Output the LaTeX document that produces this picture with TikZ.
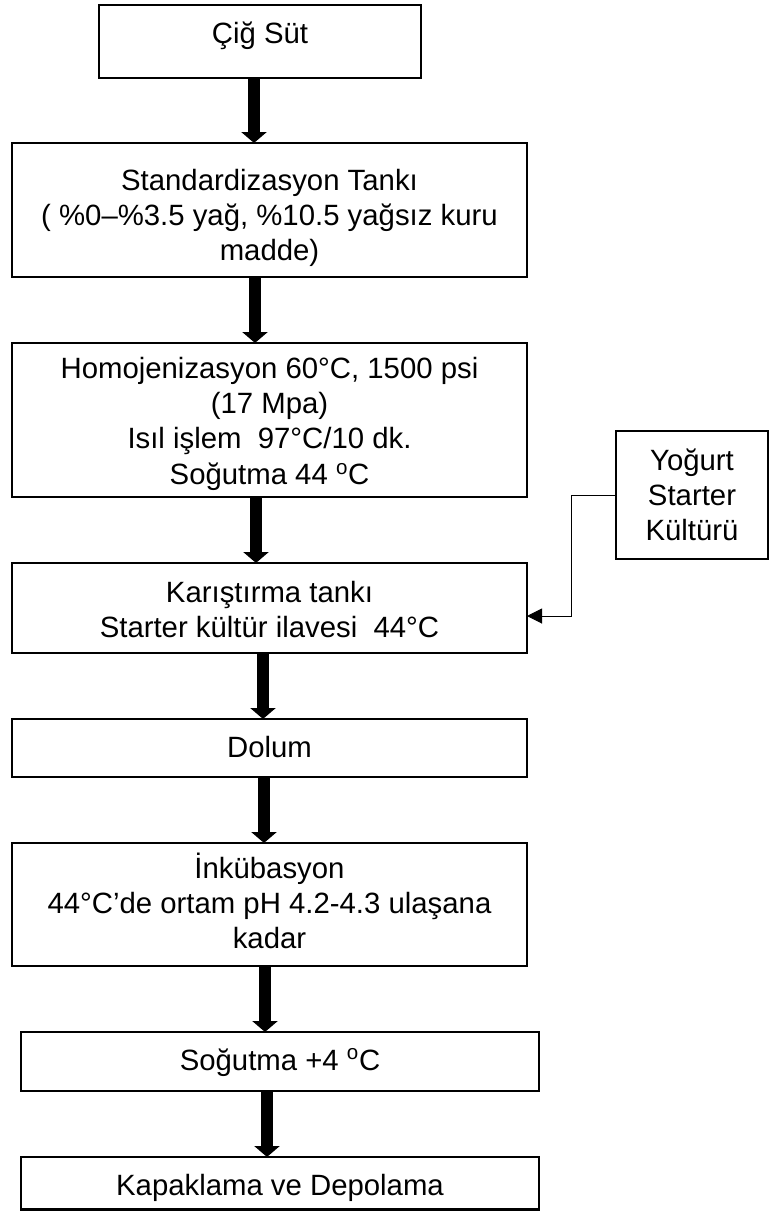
\documentclass[tikz,border=0pt]{standalone}
\usepackage{fontspec}
\setmainfont{Liberation Sans}
\usetikzlibrary{arrows.meta}
\newcommand\tp{\rule{0pt}{22pt}}
\begin{document}
\begin{tikzpicture}[x=0.75pt,y=-0.75pt,
  box/.style={draw, line width=1.725pt, rectangle, inner sep=0pt, outer sep=0pt},
  txt/.style={inner sep=0pt, outer sep=0pt, align=center, font=\fontsize{22}{26.6}\selectfont},
  bigarrow/.style={line width=9pt, -{Triangle[length=8.25pt,width=18.75pt]}},
  thinarrow/.style={line width=0.75pt, -{Triangle[length=11.25pt,width=11.25pt]}}]
\fill[white] (0,0) rectangle (770,1211);
\useasboundingbox (0,0) rectangle (770,1211);

% boxes
\node[box, minimum width=241.5pt, minimum height=54.75pt] (cig) at (260,41.5) {};
\node[box, minimum width=386.25pt, minimum height=100.5pt] (std) at (269.5,210) {};
\node[box, minimum width=386.25pt, minimum height=115.5pt] (hom) at (269.5,420) {};
\node[box, minimum width=114pt, minimum height=96pt] (yog) at (692,495) {};
\node[box, minimum width=386.25pt, minimum height=67.5pt] (kar) at (269.5,608) {};
\node[box, minimum width=386.25pt, minimum height=43.5pt] (dol) at (269.5,748) {};
\node[box, minimum width=386.25pt, minimum height=92.25pt] (ink) at (269.5,904.5) {};
\node[box, minimum width=388.5pt, minimum height=44.25pt] (sog) at (280,1061.5) {};
\node[box, minimum width=388.5pt, minimum height=39.375pt] (kap) at (280,1183.25) {};

% texts
\node[txt, anchor=base] (tcig) at (260,43) {Çiğ Süt};
\node[txt, anchor=north] (tstd) at (269.5,160.67) {\tp Standardizasyon Tankı\\( \%0–\%3.5 yağ, \%10.5 yağsız kuru\\madde)};
\node[txt, anchor=north] (thom) at (269.5,348.67) {\tp Homojenizasyon 60°C, 1500 psi\\(17 Mpa)\\Isıl işlem\ \ 97°C/10 dk.\\Soğutma 44 \textsuperscript{o}C};
\node[txt, anchor=north] (tyog) at (692,440.67) {\tp Yoğurt\\Starter\\Kültürü};
\node[txt, anchor=north] (tkar) at (269.5,572.67) {\tp Karıştırma tankı\\Starter kültür ilavesi\ \ 44°C};
\node[txt, anchor=base] (tdol) at (269.5,757) {Dolum};
\node[txt, anchor=north] (tink) at (269.5,848.67) {\tp İnkübasyon\\44°C’de ortam pH 4.2-4.3 ulaşana\\kadar};
\node[txt, anchor=base] (tsog) at (280,1070) {Soğutma +4 \textsuperscript{o}C};
\node[txt, anchor=base] (tkap) at (280,1195) {Kapaklama ve Depolama};

% arrow x positions
\coordinate (a1) at (254,0);
\coordinate (a2) at (255,0);
\coordinate (a3) at (256,0);
\coordinate (a4) at (263,0);
\coordinate (a5) at (264,0);
\coordinate (a6) at (265,0);
\coordinate (a7) at (267,0);
\draw[bigarrow] (cig.south -| a1) -- (std.north -| a1);
\draw[bigarrow] (std.south -| a2) -- (hom.north -| a2);
\draw[bigarrow] (hom.south -| a3) -- (kar.north -| a3);
\draw[bigarrow] (kar.south -| a4) -- (dol.north -| a4);
\draw[bigarrow] (dol.south -| a5) -- (ink.north -| a5);
\draw[bigarrow] (ink.south -| a6) -- (sog.north -| a6);
\draw[bigarrow] (sog.south -| a7) -- (kap.north -| a7);

% side connector
\coordinate (cv) at (571,616);
\draw[thinarrow] (yog.west) -| (cv) -- (kar.east |- cv);
\end{tikzpicture}
\end{document}
